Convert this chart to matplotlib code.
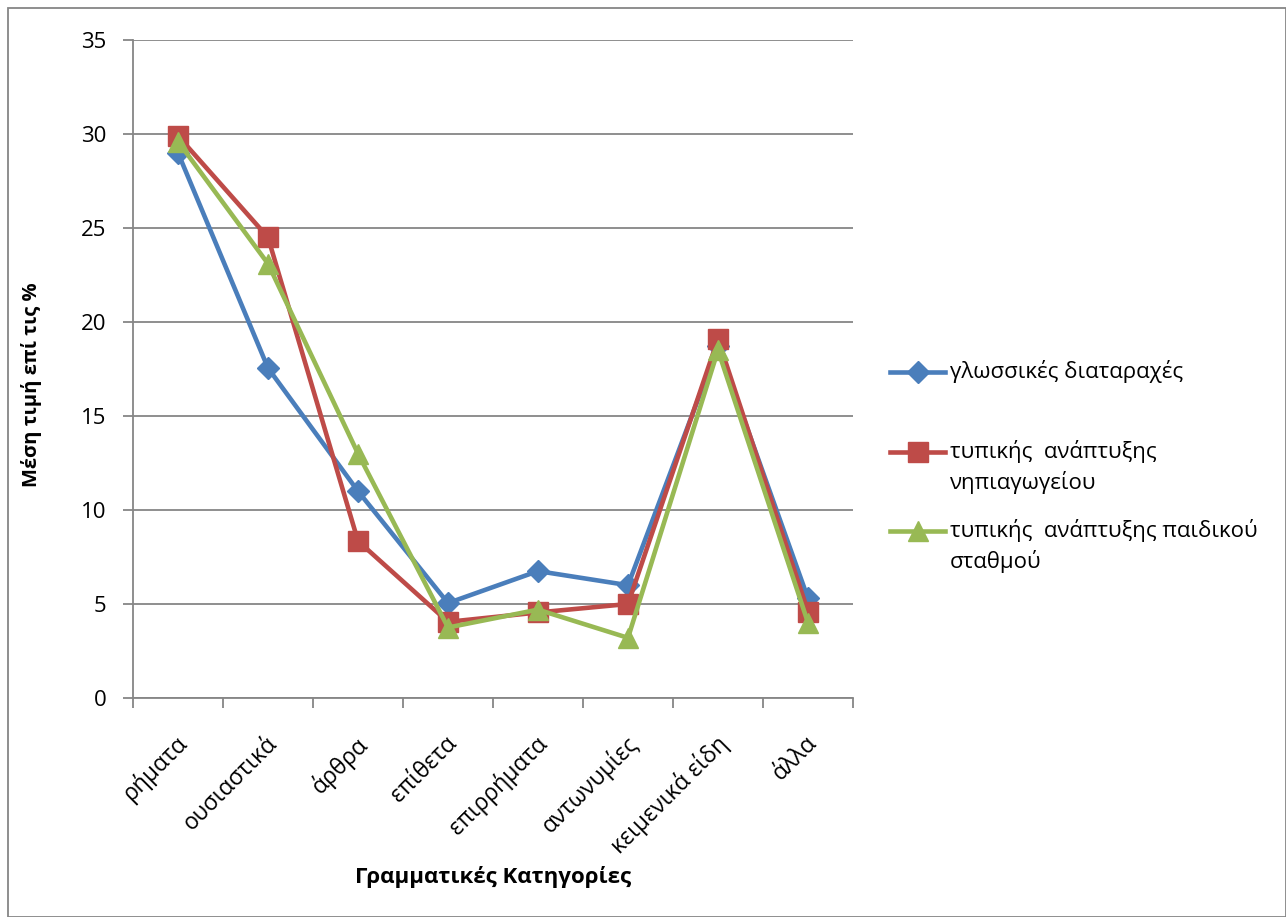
import matplotlib.pyplot as plt
import numpy as np
import matplotlib.transforms as mtransforms
from matplotlib.patches import Rectangle
from matplotlib.lines import Line2D

categories = ["ρήματα", "ουσιαστικά", "άρθρα", "επίθετα", "επιρρήματα",
              "αντωνυμίες", "κειμενικά είδη", "άλλα"]
glossikes = [29.0, 17.55, 11.0, 5.05, 6.75, 6.0, 18.7, 5.3]
nipiagogeiou = [29.9, 24.5, 8.35, 4.05, 4.55, 5.0, 19.1, 4.6]
paidikou = [29.6, 23.1, 13.0, 3.75, 4.7, 3.2, 18.5, 4.0]
labels = ["γλωσσικές διαταραχές",
          "τυπικής  ανάπτυξης\nνηπιαγωγείου",
          "τυπικής  ανάπτυξης παιδικού\nσταθμού"]

plt.rcParams['font.family'] = ['Open Sans', 'DejaVu Sans']

W, H = 1286, 917
fig = plt.figure(figsize=(W / 100, H / 100), dpi=100)
ax = fig.add_axes([133 / W, 1 - 698 / H, 720 / W, 658 / H])

series = [
    (glossikes, "#4A7EBB", "D", 11),
    (nipiagogeiou, "#BE4B48", "s", 14),
    (paidikou, "#98B954", "^", 15),
]

x = np.arange(len(categories)) + 0.5
for i, (vals, col, mk, ms) in enumerate(series):
    ax.plot(x, vals, color=col, lw=3.3, marker=mk, ms=ms, zorder=3 + i)

ax.set_xlim(0, len(categories))
ax.set_ylim(0, 35)
ax.set_yticks(range(0, 36, 5))
ax.yaxis.grid(True, color="#868686", lw=1.3)
ax.set_axisbelow(True)

ax.set_xticks(x)
ax.set_xticks(np.arange(len(categories) + 1), minor=True)
ax.tick_params(axis="x", which="major", length=0, pad=24)
ax.tick_params(axis="x", which="minor", length=7, color="#868686", width=1.3)
ax.tick_params(axis="y", length=7, color="#868686", width=1.3, labelsize=16, pad=12)
ax.set_xticklabels(categories, rotation=45, ha="right", rotation_mode="anchor",
                   fontsize=16.5)
# shift the rotated labels so their ends sit just right of each category centre
offset = mtransforms.ScaledTranslation(-3 / 100, 0, fig.dpi_scale_trans)
for lab in ax.get_xticklabels():
    lab.set_transform(lab.get_transform() + offset)

for side in ["top", "right"]:
    ax.spines[side].set_visible(False)
for side in ["left", "bottom"]:
    ax.spines[side].set_color("#868686")
    ax.spines[side].set_linewidth(1.3)

fig.text(32 / W, 1 - 385 / H, "Μέση τιμή επί τις %", fontsize=14.5,
         fontweight="bold", rotation=90, ha="center", va="center")
fig.text(493 / W, 1 - 877 / H, "Γραμματικές Κατηγορίες", fontsize=16,
         fontweight="bold", ha="center", va="center")

# legend: marker sits on the first text line of each entry
legend_y = [372, 452, 531]
for (vals, col, mk, ms), lab, yy in zip(series, labels, legend_y):
    fy = 1 - yy / H
    fig.lines.append(Line2D([890 / W, 945 / W], [fy, fy], transform=fig.transFigure,
                            color=col, lw=3.3))
    fig.lines.append(Line2D([917.5 / W], [fy], transform=fig.transFigure,
                            color=col, marker=mk, ms=ms, lw=0))
    fig.text(950 / W, fy + 12 / H, lab, fontsize=16, ha="left", va="top",
             linespacing=1.45)

fig.patches.append(Rectangle((8 / W, 0), 1 - 8 / W, 1 - 8 / H,
                             transform=fig.transFigure, fill=False,
                             edgecolor="#868686", lw=1.3))

fig.savefig("out.png", dpi=100)
